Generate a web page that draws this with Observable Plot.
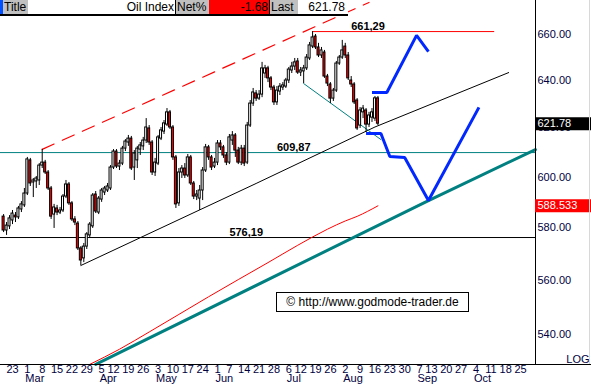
<!DOCTYPE html>
<html><head><meta charset="utf-8">
<script src="https://cdn.jsdelivr.net/npm/d3@7"></script>
<script src="https://cdn.jsdelivr.net/npm/@observablehq/plot@0.6"></script>
<style>
body{margin:0;background:#fff;font-family:"Liberation Sans",Arial,sans-serif;}
#wrap{position:relative;width:591px;height:385px;overflow:hidden;background:#fff;}
#chart{position:absolute;left:0;top:0;}
#edge{position:absolute;left:589px;top:0;width:1px;height:364px;background:#d8d8d8;}
#hdr{position:absolute;left:0;top:0;width:348px;height:14px;border-bottom:2px solid #000;background:#fff;font-size:12px;line-height:14px;color:#000;}
#hdr div{position:absolute;top:0;height:14px;white-space:nowrap;}
#copy{position:absolute;left:276px;top:292px;width:191px;height:18px;border:1px solid #000;background:#fff;font-size:12px;line-height:18px;text-align:center;color:#000;}
</style></head><body>
<div id="wrap"><div id="chart"></div><div id="edge"></div>
<div id="hdr">
 <div style="left:0;width:3px;background:#0050ff"></div>
 <div style="left:3px;width:24px;background:#c0c0c0;padding-left:1px" id="hTitle"></div>
 <div style="left:28px;width:146px;text-align:right" id="hName"></div>
 <div style="left:175px;width:1px;background:#000"></div>
 <div style="left:176px;width:32px;background:#c0c0c0;padding-left:1px" id="hNetL"></div>
 <div style="left:209px;width:59px;background:#ff0000;text-align:right;padding-right:1px" id="hNet"></div>
 <div style="left:269px;width:1px;background:#000"></div>
 <div style="left:270px;width:27px;background:#c0c0c0;padding-left:1px" id="hLastL"></div>
 <div style="left:298px;width:47px;text-align:right" id="hLast"></div>
</div>
<div id="copy"></div>
</div>
<script>
// ---------- data ----------
const headerTitle = "Title", instrument = "Oil Index", netLabel = "Net%", lastLabel = "Last";
const netPct = -1.68, lastPrice = 621.78, maLast = 588.533;
const copyright = "\u00A9 http://www.godmode-trader.de";
const firstDay = "2004-02-18";
const holidays = ["2004-04-09","2004-05-31","2004-07-05","2004-09-06"];
const opens = [584.3,578.9,580.5,582.8,584.7,584.0,587.1,588.7,593.4,606.7,597.8,598.2,598.6,604.6,605.8,601.8,595.4,585.1,587.5,585.9,586.7,592.2,597.0,589.5,583.2,581.6,572.0,568.2,572.7,577.0,580.5,593.0,585.9,591.0,593.8,594.6,595.4,603.8,610.3,604.2,605.4,611.5,614.0,615.6,603.8,606.7,611.1,612.4,614.8,619.8,614.0,601.8,605.4,615.6,618.5,621.4,626.5,620.2,607.9,589.5,601.8,603.4,600.6,607.9,597.4,592.2,591.4,594.6,602.6,612.0,607.9,604.2,605.8,613.6,612.0,608.7,605.8,614.8,616.9,610.7,605.8,611.5,605.8,621.0,630.2,634.5,632.3,634.0,643.0,645.2,640.9,637.0,630.7,635.3,637.0,637.4,640.0,644.3,646.0,648.2,643.4,643.9,645.2,649.5,654.7,659.1,654.3,650.8,652.1,641.7,638.3,632.3,635.7,647.3,649.9,654.7,650.8,640.0,638.3,631.5,621.0,626.5,627.3,621.4,624.3,623.9,632.4];
const highs = [585.1,582.0,584.7,586.7,585.9,588.3,590.2,595.4,607.9,607.5,599.4,600.2,605.4,611.2,606.7,602.6,596.2,589.1,588.7,587.9,593.0,598.6,597.8,590.2,584.3,582.4,572.7,573.9,578.1,582.0,593.4,594.2,592.2,595.4,596.2,597.4,604.6,611.1,611.1,606.7,612.4,615.2,616.9,616.5,610.7,612.4,614.0,616.1,623.9,621.0,614.8,607.5,616.9,620.2,623.1,628.1,627.3,621.0,608.7,603.4,604.6,605.4,609.1,608.7,598.2,594.6,596.6,603.8,613.2,612.8,608.7,607.5,614.8,614.8,612.8,609.9,617.3,618.5,617.7,612.0,612.8,612.8,622.3,631.5,636.6,635.7,635.7,647.8,646.5,646.1,641.7,637.9,637.4,638.7,639.1,640.9,645.6,647.8,649.5,649.5,645.6,646.5,651.2,656.5,661.29,660.0,656.1,654.3,653.0,642.6,639.1,636.6,648.2,650.8,657.4,656.1,652.1,641.7,639.1,632.3,628.5,629.4,628.1,626.5,628.1,633.2,633.2];
const lows = [578.1,577.0,579.3,581.2,582.0,583.2,585.9,587.9,592.6,596.2,591.8,595.4,596.6,603.4,601.0,594.6,583.2,579.7,584.7,585.1,585.9,591.4,588.7,582.4,580.8,571.2,565.5,566.6,571.6,575.8,579.7,585.5,585.1,589.9,592.6,593.8,594.6,603.0,603.4,602.6,604.6,610.3,612.4,602.6,598.6,603.4,608.7,610.7,613.6,612.8,600.6,600.2,604.6,614.8,617.3,620.6,619.4,606.7,587.5,588.3,599.4,599.4,599.8,596.6,591.0,590.6,586.7,590.6,601.8,606.7,602.6,603.4,604.6,610.7,607.5,604.6,605.0,612.8,607.9,605.0,604.6,604.2,605.0,620.2,629.0,631.1,631.5,632.7,640.9,639.1,635.7,629.4,629.4,633.6,635.7,636.6,638.7,643.0,644.3,642.6,641.7,638.7,644.3,648.6,653.8,653.4,649.9,649.5,640.9,637.4,630.2,631.1,634.9,646.5,649.1,649.5,640.0,637.0,629.8,619.0,619.8,623.9,618.1,620.2,622.3,622.7,621.0];
const closes = [578.9,580.8,583.6,585.5,584.0,587.5,589.1,593.4,607.1,597.4,598.6,599.4,604.6,605.8,601.8,595.4,584.3,587.9,585.9,586.7,592.2,597.0,589.5,583.2,582.0,572.0,567.4,572.7,577.4,581.2,592.6,586.3,591.4,594.6,595.4,596.2,603.8,610.3,604.2,605.4,611.5,614.4,615.6,603.4,609.5,611.5,612.8,614.8,620.2,614.0,601.8,605.8,616.1,619.0,621.9,626.5,620.2,607.9,589.1,601.8,603.4,600.6,607.9,597.4,592.2,593.0,594.6,602.6,612.0,607.9,603.8,605.8,613.6,612.0,608.7,605.8,616.1,616.9,610.7,605.8,611.5,605.4,621.0,630.2,634.9,632.3,634.0,645.2,645.2,640.9,637.0,630.7,635.7,637.4,637.9,640.0,644.7,646.0,647.8,643.4,644.3,645.2,649.9,655.2,658.7,654.3,650.8,653.0,641.7,638.7,632.3,635.7,647.3,649.9,653.0,650.8,640.9,638.3,630.7,619.8,627.3,628.1,621.4,625.2,626.5,632.4,621.78];
// moving average (red thin), read at sample dates
const maDates = ["2004-03-30","2004-04-14","2004-04-28","2004-05-12","2004-05-26","2004-06-10","2004-06-24","2004-07-09","2004-07-23","2004-08-02","2004-08-06","2004-08-17"];
const maValues = [529.3,534.7,540.9,547.3,553.8,560.2,566.6,573.2,579.4,582.6,584.4,588.533];
// drawn lines: [date, price]
const channelTop = [["2004-03-08",611.2],["2004-08-12",674.3]];
const highLine = [["2004-07-16",661.29],["2004-10-12",661.29]];
const supportLine = [["2004-03-25",565.5],["2004-06-18",597.4],["2004-08-16",620.4],["2004-10-19",643.4]];
const lowerChannel = [["2004-04-01",529.3],["2004-09-10",590.6],["2004-11-01",611.1]];
const tealDiag = [["2004-07-13",638.7],["2004-08-18",615.2]];
const blueUpper = [["2004-08-13",634.9],["2004-08-20",634.9],["2004-09-03",659.6],["2004-09-10",652.5]];
const blueLower = [["2004-08-11",617.7],["2004-08-18",617.7],["2004-08-23",608.3],["2004-08-30",607.9],["2004-09-10",590.6],["2004-10-05",628.6]];
const levels = [609.87, 576.19];
const levelLabels = [["2004-08-04",661.29],["2004-06-29",609.87],["2004-06-07",576.19]];
const yTicks = [540,560,580,600,620,640,660];
const tickDates = ["2004-02-23","2004-03-01","2004-03-08","2004-03-15","2004-03-22","2004-03-29","2004-04-05","2004-04-12","2004-04-19","2004-04-26","2004-05-03","2004-05-10","2004-05-17","2004-05-24","2004-06-01","2004-06-07","2004-06-14","2004-06-21","2004-06-28","2004-07-06","2004-07-12","2004-07-19","2004-07-26","2004-08-02","2004-08-09","2004-08-16","2004-08-23","2004-08-30","2004-09-07","2004-09-13","2004-09-20","2004-09-27","2004-10-04","2004-10-11","2004-10-18","2004-10-25"];
const monthNames = ["Jan","Feb","Mar","Apr","May","Jun","Jul","Aug","Sep","Oct","Nov","Dec"];

// ---------- header ----------
document.getElementById("hTitle").textContent = headerTitle;
document.getElementById("hName").textContent = instrument;
document.getElementById("hNetL").textContent = netLabel;
document.getElementById("hNet").textContent = netPct.toFixed(2);
document.getElementById("hLastL").textContent = lastLabel;
document.getElementById("hLast").textContent = lastPrice.toFixed(2);
document.getElementById("copy").textContent = copyright;

// ---------- calendar ----------
function tradingDays(start, n) {
  const out = []; const d = new Date(start + "T00:00:00Z");
  while (out.length < n) {
    const w = d.getUTCDay(); const s = d.toISOString().slice(0, 10);
    if (w !== 0 && w !== 6 && !holidays.includes(s)) out.push(s);
    d.setUTCDate(d.getUTCDate() + 1);
  }
  return out;
}
const cal = tradingDays(firstDay, 220);
const kOf = s => cal.indexOf(s);
const pts = arr => arr.map(([d, v]) => ({k: kOf(d), v}));
const candles = opens.map((o, j) => ({k: j, o, h: highs[j], l: lows[j], c: closes[j]}));
const ma = maDates.map((d, j) => ({k: kOf(d), v: maValues[j]}));

const pxDay = 2.971;
const xDomain = [3 - 12 / pxDay, 3 + 523 / pxDay];
const xEdge = xDomain[1] + 56 / pxDay;
const yDomain = [529.27, 675.18];

const monthTicks = [];
tickDates.forEach((d, j) => {
  if (j > 0 && d.slice(5, 7) !== tickDates[j - 1].slice(5, 7)) monthTicks.push(d);
});
const fmtLevel = v => v.toFixed(2).replace(".", ",");
const ink = "#000040";
const blue = "#0028ff";

const chart = Plot.plot({
  width: 591, height: 385,
  marginLeft: 0, marginRight: 56, marginTop: 0, marginBottom: 21,
  style: {fontFamily: "'Liberation Sans', Arial, sans-serif", fontSize: "11px", background: "transparent", overflow: "visible"},
  x: {type: "linear", domain: xDomain, axis: null},
  y: {type: "log", domain: yDomain, axis: null},
  color: {type: "identity"},
  marks: [
    Plot.ruleY([levels[0]], {stroke: "#008080"}),
    Plot.ruleY([levels[1]], {stroke: "black"}),
    Plot.line(pts(lowerChannel), {x: "k", y: "v", stroke: "#008080", strokeWidth: 3}),
    Plot.line(ma, {x: "k", y: "v", stroke: "#ff0000", strokeWidth: 1, curve: "monotone-x"}),
    Plot.line(pts(supportLine), {x: "k", y: "v", stroke: "black", strokeWidth: 1}),
    Plot.line(pts(channelTop), {x: "k", y: "v", stroke: "#ff0000", strokeWidth: 1.2, strokeDasharray: "13,9"}),
    Plot.line(pts(highLine), {x: "k", y: "v", stroke: "#ff0000", strokeWidth: 1}),
    Plot.line(pts(tealDiag), {x: "k", y: "v", stroke: "#008080", strokeWidth: 1}),
    Plot.ruleX(candles, {x: "k", y1: "l", y2: "h", stroke: "black"}),
    Plot.rect(candles, {x1: d => d.k - 0.34, x2: d => d.k + 0.34, y1: "o", y2: "c",
      fill: d => d.c < d.o ? "#ff0000" : "white", stroke: "black", strokeWidth: 1}),
    Plot.line(pts(blueUpper), {x: "k", y: "v", stroke: blue, strokeWidth: 3, strokeLinecap: "butt", strokeLinejoin: "miter"}),
    Plot.line(pts(blueLower), {x: "k", y: "v", stroke: blue, strokeWidth: 3, strokeLinecap: "butt", strokeLinejoin: "miter"}),
    Plot.text(levelLabels, {x: d => kOf(d[0]), y: d => d[1], text: d => fmtLevel(d[1]),
      textAnchor: "start", lineAnchor: "bottom", dy: -2, fontWeight: "bold", fill: "black"}),
    // frame
    Plot.ruleY([yDomain[0]], {x1: xDomain[0], x2: xEdge, stroke: "black"}),
    Plot.ruleX([xDomain[1]], {stroke: "black"}),
    // right axis
    Plot.text(yTicks, {y: d => d, text: d => d.toFixed(2), frameAnchor: "right", dx: 2, textAnchor: "start", fill: ink}),
    Plot.ruleY([lastPrice], {x1: xDomain[1], x2: xEdge, stroke: "black", strokeWidth: 13}),
    Plot.text([lastPrice], {y: d => d, text: d => d.toFixed(2), frameAnchor: "right", dx: 2, textAnchor: "start", fill: "white"}),
    Plot.ruleY([maLast], {x1: xDomain[1], x2: xEdge, stroke: "#ff0000", strokeWidth: 13}),
    Plot.text([maLast], {y: d => d, text: d => d.toFixed(3), frameAnchor: "right", dx: 2, textAnchor: "start", fill: "white"}),
    Plot.text(["LOG"], {frameAnchor: "bottom-right", dx: 54, dy: -2, textAnchor: "end", lineAnchor: "bottom", fill: ink}),
    // bottom axis
    Plot.text(tickDates, {x: d => kOf(d), text: d => String(+d.slice(8)), frameAnchor: "bottom", dy: 8, fill: ink}),
    Plot.text(monthTicks, {x: d => kOf(d), text: d => monthNames[+d.slice(5, 7) - 1], frameAnchor: "bottom", dy: 17.5, dx: -2, textAnchor: "start", fill: ink})
  ]
});
document.getElementById("chart").appendChild(chart);
</script>
</body></html>
